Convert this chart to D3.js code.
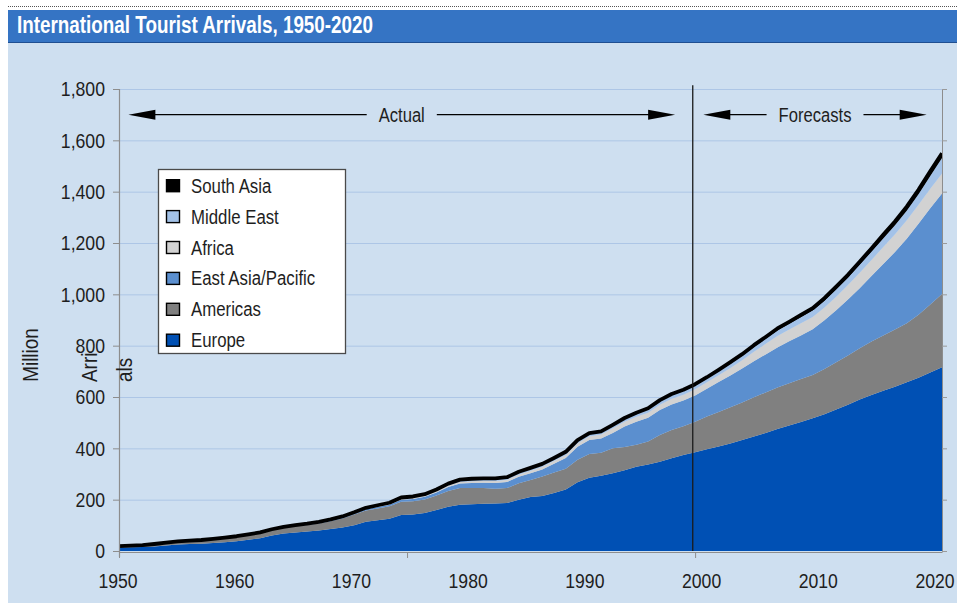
<!DOCTYPE html>
<html>
<head>
<meta charset="utf-8">
<script src="https://cdn.jsdelivr.net/npm/d3@7"></script>
<style>
  html, body { margin: 0; padding: 0; background: #ffffff; }
  svg { display: block; }
  text { font-family: "Liberation Sans", Arial, sans-serif; }
</style>
</head>
<body>
<svg id="chart" width="957" height="603"></svg>
<script>
// International tourist arrivals by region, million (actual to 1999, forecasts to 2020)
const years = [
  1950,1951,1952,1953,1954,1955,1956,1957,1958,1959,
  1960,1961,1962,1963,1964,1965,1966,1967,1968,1969,
  1970,1971,1972,1973,1974,1975,1976,1977,1978,1979,
  1980,1981,1982,1983,1984,1985,1986,1987,1988,1989,
  1990,1991,1992,1993,1994,1995,1996,1997,1998,1999,
  2000,2001,2002,2003,2004,2005,2006,2007,2008,2009,
  2010,2011,2012,2013,2014,2015,2016,2017,2018,2019,
  2020
];

const europe = [
  14,15,16,18,21,25,27,28,31,34,
  38,44,50,60,68,72,76,80,86,92,
  100,114,120,126,140,142,148,160,172,180,
  182,184,185,187,200,210,214,226,240,268,
  285,293,303,315,328,337,348,361,374,385,
  396,407,419,432,446,460,475,489,503,517,
  533,551,570,590,608,624,640,657,675,695,
  716
];

const americas = [
  4,5,6,8,10,11,12,13,14,16,
  17,18,19,21,22,24,25,27,30,35,
  42,44,46,48,52,52,53,56,62,65,
  63,61,58,58,64,67,76,80,80,88,
  93,90,97,90,86,90,104,110,112,119,
  128,135,141,147,153,158,162,165,167,169,
  176,184,192,200,208,216,223,230,245,265,
  285
];

const eastAsiaPacific = [
  0.2,0.2,0.3,0.3,0.4,0.5,0.5,0.6,0.7,0.8,
  0.9,1.0,1.2,1.4,1.6,2.0,2.2,2.5,2.8,3.0,
  3.5,4.5,5.5,6.5,8,9,10,12,15,18,
  20,21,22,24,25,26,28,34,42,50,
  54,55,60,80,90,92,97,100,100,102,
  108,116,124,132,140,148,156,163,170,178,
  190,203,218,234,255,278,302,330,355,375,
  392
];

const africa = [
  0.5,0.5,0.5,0.6,0.6,0.6,0.7,0.7,0.7,0.7,
  0.8,0.9,1.0,1.1,1.2,1.3,1.5,1.7,1.9,2.1,
  2.4,2.7,3.0,3.3,3.6,4.0,4.5,5.0,5.8,6.5,
  7.2,7.6,8.0,8.5,9.0,9.7,10.5,11.5,12.5,14,
  15,16,18,18.5,19,20,21,22,23,24,
  25,27,29,32,37,41,45,46,47,48,
  50,53,56,60,63,66,69,72,74,76,
  78
];

const middleEast = [
  0.2,0.2,0.3,0.3,0.3,0.4,0.4,0.4,0.5,0.5,
  0.6,0.7,0.8,0.9,1.0,1.1,1.2,1.4,1.6,1.8,
  1.9,2.2,2.6,3.0,3.6,4.0,4.5,5.0,5.7,6.4,
  7.1,7.3,7.5,7.5,8.0,8.5,8.0,8.0,9.0,9.0,
  9.0,8.5,10,11,12,13,13.5,14,14.5,15,
  15,16,17,18,19,20,21,22,24,25,
  26,28,29,31,32,34,35,37,41,50,
  60
];

const southAsia = [
  0.1,0.1,0.1,0.1,0.1,0.2,0.2,0.2,0.2,0.2,
  0.2,0.3,0.3,0.3,0.4,0.4,0.5,0.6,0.7,0.8,
  0.9,1.0,1.1,1.2,1.3,1.4,1.5,1.7,1.9,2.0,
  2.2,2.3,2.4,2.5,2.6,2.7,2.8,2.9,3.0,3.1,
  3.2,3.3,3.5,3.7,4.0,4.2,4.4,4.6,4.8,5.0,
  5,5,6,6,7,7,8,8,9,9,
  10,11,11,12,13,14,15,16,17,18,
  19
];

// Regions from bottom of the stack to the top, with their fills
const regions = ["Europe", "Americas", "East Asia/Pacific", "Africa", "Middle East", "South Asia"];
const regionValues = [europe, americas, eastAsiaPacific, africa, middleEast, southAsia];
const regionColors = ["#0050b4", "#808080", "#5b8fcf", "#d2d2d2", "#a3c2e8", "#000000"];

// Axis ticks and labels
const yTicks = [0, 200, 400, 600, 800, 1000, 1200, 1400, 1600, 1800];
const xLabels = [1950, 1960, 1970, 1980, 1990, 2000, 2010, 2020];
const xTickMarks = [1950, 1974.5, 1999];

// Period annotations
const lastActualYear = 1998.8;
const periods = [
  { label: "Actual", from: 1950.8, to: 1997.3 },
  { label: "Forecasts", from: 1999.7, to: 2018.7 }
];

const titleText = "International Tourist Arrivals, 1950-2020";

// ---------------------------------------------------------------
const W = 957, H = 603;
const svg = d3.select("#chart");
const bg = "#cedff0";
const ink = "#1e1e1e";

// Squeeze text horizontally to a condensed look
function condense(sel, f) {
  sel.each(function () {
    const len = this.getComputedTextLength();
    this.setAttribute("textLength", (len * f).toFixed(1));
    this.setAttribute("lengthAdjust", "spacingAndGlyphs");
  });
  return sel;
}

// Panel and title bar
svg.append("rect").attr("x", 8).attr("y", 42).attr("width", W - 8).attr("height", H - 42).attr("fill", bg);
svg.append("line").attr("x1", 8).attr("x2", W).attr("y1", 6.5).attr("y2", 6.5)
  .attr("stroke", "#555").attr("stroke-width", 1).attr("stroke-dasharray", "1,1");
svg.append("rect").attr("x", 8).attr("y", 10).attr("width", W - 8).attr("height", 33).attr("fill", "#3574c4");
svg.append("line").attr("x1", 8).attr("x2", W).attr("y1", 42.5).attr("y2", 42.5)
  .attr("stroke", "#1f4f91").attr("stroke-width", 1);
svg.append("text").attr("x", 17).attr("y", 33)
  .attr("fill", "#ffffff").attr("font-size", 23).attr("font-weight", "bold")
  .attr("textLength", 356).attr("lengthAdjust", "spacingAndGlyphs")
  .text(titleText);

// Scales
const x = d3.scaleLinear().domain([1950, 2020]).range([119, 942]);
const xLabelPos = d3.scaleLinear().domain([1950, 2020]).range([118, 935]);
const y = d3.scaleLinear().domain([0, 1800]).range([551, 89]);

// Gridlines
svg.append("g").selectAll("line")
  .data(yTicks.filter(d => d > 0))
  .join("line")
  .attr("x1", x(1950)).attr("x2", x(2020))
  .attr("y1", d => y(d) + 0.5).attr("y2", d => y(d) + 0.5)
  .attr("stroke", "#adc6e6").attr("stroke-width", 1);

// Stacked areas
const rows = years.map((yr, i) => {
  const r = { year: yr };
  regions.forEach((k, j) => { r[k] = regionValues[j][i]; });
  return r;
});
const series = d3.stack().keys(regions)(rows);

svg.append("defs").append("clipPath").attr("id", "plotClip")
  .append("rect").attr("x", x(1950)).attr("y", 60)
  .attr("width", x(2020) - x(1950)).attr("height", y(0) - 60);

const plot = svg.append("g").attr("clip-path", "url(#plotClip)");

const area = d3.area()
  .x(d => x(d.data.year))
  .y0(d => y(d[0]))
  .y1(d => y(d[1]));

plot.selectAll("path.band")
  .data(series)
  .join("path")
  .attr("class", "band")
  .attr("d", area)
  .attr("fill", (d, i) => regionColors[i]);

// Black outline along the top of the stack
const topLine = d3.line().x(d => x(d.data.year)).y(d => y(d[1]));
plot.append("path")
  .attr("d", topLine(series[series.length - 1]))
  .attr("fill", "none").attr("stroke", "#000").attr("stroke-width", 3.8)
  .attr("stroke-linejoin", "round");

// Divider between actual and forecast periods
svg.append("line")
  .attr("x1", x(lastActualYear)).attr("x2", x(lastActualYear))
  .attr("y1", y(1815)).attr("y2", y(0))
  .attr("stroke", "#1a1a1a").attr("stroke-width", 1.3);

// Right frame with small ticks
svg.append("line").attr("x1", x(2020) + 0.5).attr("x2", x(2020) + 0.5)
  .attr("y1", y(1800)).attr("y2", y(0)).attr("stroke", "#8d8d8d").attr("stroke-width", 1);
svg.append("g").selectAll("line").data(yTicks).join("line")
  .attr("x1", x(2020)).attr("x2", x(2020) + 5)
  .attr("y1", d => y(d) + 0.5).attr("y2", d => y(d) + 0.5)
  .attr("stroke", "#9a9a9a").attr("stroke-width", 1);

// Left axis
const yAxis = d3.axisLeft(y).tickValues(yTicks).tickSize(6).tickSizeOuter(0)
  .tickPadding(8).tickFormat(d3.format(","));
const gy = svg.append("g").attr("transform", `translate(${x(1950)},0)`).call(yAxis);
gy.select(".domain").remove();
gy.selectAll(".tick line").attr("stroke", "#8d8d8d");
gy.selectAll(".tick text").attr("fill", ink).attr("font-size", 21)
  .attr("font-family", "'Liberation Sans', Arial, sans-serif");
condense(gy.selectAll(".tick text"), 0.84);
svg.append("line").attr("x1", x(1950) + 0.5).attr("x2", x(1950) + 0.5)
  .attr("y1", y(1800)).attr("y2", y(0) + 6)
  .attr("stroke", "#8d8d8d").attr("stroke-width", 1.2);

// Bottom axis
const xAxis = d3.axisBottom(x).tickValues(xTickMarks).tickSize(6).tickSizeOuter(0).tickFormat("");
const gx = svg.append("g").attr("transform", `translate(0,${y(0) + 1})`).call(xAxis);
gx.select(".domain").attr("stroke", "#8d8d8d");
gx.selectAll(".tick line").attr("stroke", "#8d8d8d");

// Year labels, narrowed with a horizontal scale
svg.append("g").selectAll("text").data(xLabels).join("text")
  .attr("transform", d => `translate(${xLabelPos(d)},588) scale(0.84,1)`)
  .attr("text-anchor", "middle").attr("fill", ink).attr("font-size", 21)
  .text(d => d);

// Axis titles
condense(svg.append("text").attr("transform", `translate(38,355) rotate(-90)`)
  .attr("text-anchor", "middle").attr("fill", ink).attr("font-size", 22)
  .text("Million"), 0.86);
condense(svg.append("text").attr("transform", `translate(97,382) rotate(-90)`)
  .attr("fill", ink).attr("font-size", 22).text("Arri"), 0.86);
condense(svg.append("text").attr("transform", `translate(132,382) rotate(-90)`)
  .attr("fill", ink).attr("font-size", 22).text("als"), 0.86);

// Period arrows
const arrowY = y(1700);
function arrowHead(g, tipX, dir) {
  const len = 27, half = 5;
  g.append("path")
    .attr("d", `M${tipX},${arrowY} L${tipX + dir * len},${arrowY - half} L${tipX + dir * len},${arrowY + half} Z`)
    .attr("fill", "#000");
}
periods.forEach(p => {
  const g = svg.append("g");
  const x0 = x(p.from), x1 = x(p.to), cx = (x0 + x1) / 2;
  const t = g.append("text").attr("x", cx).attr("y", arrowY + 7)
    .attr("text-anchor", "middle").attr("fill", ink).attr("font-size", 20)
    .text(p.label);
  condense(t, 0.83);
  const w = +t.attr("textLength");
  const pad = 12;
  g.append("line").attr("x1", x0 + 20).attr("x2", cx - w / 2 - pad)
    .attr("y1", arrowY).attr("y2", arrowY).attr("stroke", "#000").attr("stroke-width", 1.4);
  g.append("line").attr("x1", cx + w / 2 + pad).attr("x2", x1 - 20)
    .attr("y1", arrowY).attr("y2", arrowY).attr("stroke", "#000").attr("stroke-width", 1.4);
  arrowHead(g, x0, 1);
  arrowHead(g, x1, -1);
});

// Legend (top entry is the top of the stack)
const legend = svg.append("g");
legend.append("rect").attr("x", 158.5).attr("y", 169.5).attr("width", 187).attr("height", 184)
  .attr("fill", "#ffffff").attr("stroke", "#4a4a4a").attr("stroke-width", 1.3);
const legendOrder = regions.map((r, i) => ({ name: r, color: regionColors[i] })).reverse();
const rowH = 30.9;
legendOrder.forEach((d, i) => {
  const cy = 185.7 + i * rowH;
  legend.append("rect").attr("x", 166.5).attr("y", cy - 6).attr("width", 13).attr("height", 12)
    .attr("fill", d.color).attr("stroke", "#000").attr("stroke-width", 1.4);
  const t = legend.append("text").attr("x", 191).attr("y", cy + 7)
    .attr("fill", ink).attr("font-size", 20).text(d.name);
  condense(t, 0.84);
});
</script>
</body>
</html>
